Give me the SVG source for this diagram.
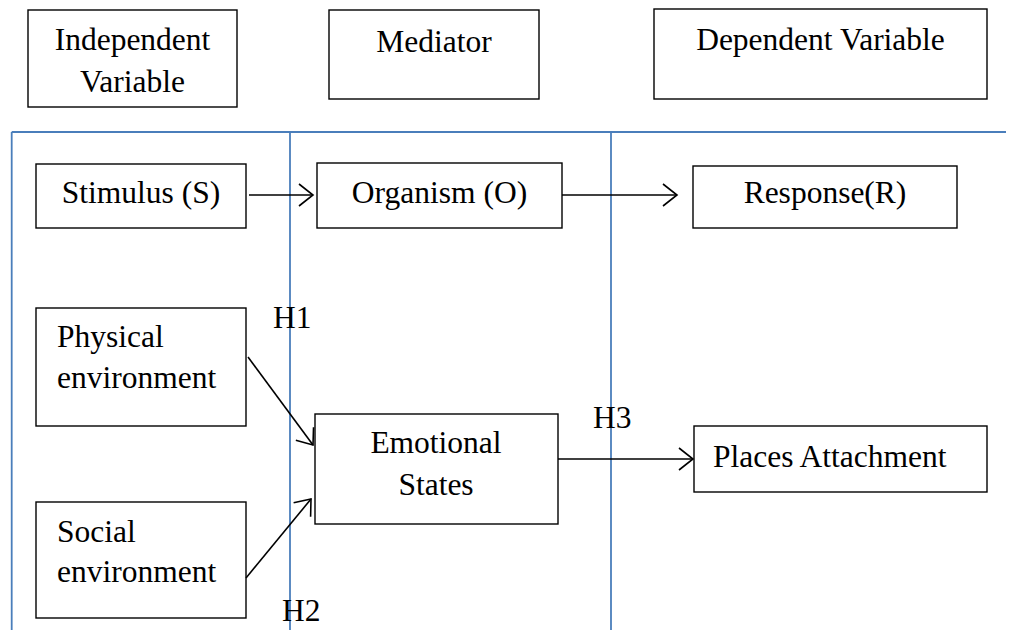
<svg xmlns="http://www.w3.org/2000/svg" width="1013" height="630" viewBox="0 0 1013 630">
<style>
.box{fill:#fff;stroke:#000;stroke-width:1.4}
.t{font-family:"Liberation Serif","Times New Roman",serif;font-size:31.5px;fill:#000}
.c{text-anchor:middle}
.blue{stroke:#4A7EBB;stroke-width:1.8;fill:none}
.arr{stroke:#000;stroke-width:1.6;fill:none;marker-end:url(#ah)}
</style>
<defs>
<marker id="ah" markerUnits="userSpaceOnUse" markerWidth="20" markerHeight="26" refX="15" refY="12" orient="auto" overflow="visible">
<path d="M1,1 L15,12 L1,23" fill="none" stroke="#000" stroke-width="1.6"/>
</marker>
</defs>
<rect width="1013" height="630" fill="#fff"/>
<g id="frame">
<line class="blue" x1="11.7" y1="132" x2="1006" y2="132"/>
<line class="blue" x1="11.7" y1="132" x2="11.7" y2="630"/>
<line class="blue" x1="290" y1="132" x2="290" y2="630"/>
<line class="blue" x1="611" y1="132" x2="611" y2="630"/>
</g>
<g id="hdr-independent">
<rect class="box" x="28" y="10" width="209" height="97"/>
<text class="t c" x="132.5" y="50">Independent</text>
<text class="t c" x="132.5" y="92">Variable</text>
</g>
<g id="hdr-mediator">
<rect class="box" x="329" y="10" width="210" height="89"/>
<text class="t c" x="434" y="52">Mediator</text>
</g>
<g id="hdr-dependent">
<rect class="box" x="654" y="9" width="333" height="90"/>
<text class="t c" x="820.5" y="50">Dependent Variable</text>
</g>
<g id="stimulus">
<rect class="box" x="36" y="164" width="210" height="64"/>
<text class="t c" x="141" y="203">Stimulus (S)</text>
</g>
<g id="organism">
<rect class="box" x="317" y="163" width="245" height="65"/>
<text class="t c" x="439.5" y="203">Organism (O)</text>
</g>
<g id="response">
<rect class="box" x="693" y="166" width="264" height="62"/>
<text class="t c" x="825" y="203">Response(R)</text>
</g>
<g id="physical">
<rect class="box" x="36" y="308" width="210" height="118"/>
<text class="t" x="57" y="347">Physical</text>
<text class="t" x="57" y="388">environment</text>
</g>
<g id="social">
<rect class="box" x="36" y="502" width="210" height="116"/>
<text class="t" x="57" y="542">Social</text>
<text class="t" x="57" y="582">environment</text>
</g>
<g id="emotional">
<rect class="box" x="315" y="414" width="243" height="110"/>
<text class="t c" x="436" y="453">Emotional</text>
<text class="t c" x="436" y="495">States</text>
</g>
<g id="places">
<rect class="box" x="694" y="426" width="293" height="66"/>
<text class="t" x="713" y="467">Places Attachment</text>
</g>
<g id="connectors">
<line class="arr" x1="249" y1="195" x2="313" y2="195"/>
<line class="arr" x1="562" y1="195" x2="677" y2="195"/>
<line class="arr" x1="248" y1="357" x2="313" y2="445"/>
<line class="arr" x1="246" y1="578" x2="311" y2="499"/>
<line class="arr" x1="558" y1="459" x2="693" y2="459"/>
</g>
<g id="labels">
<text class="t" x="273" y="328">H1</text>
<text class="t" x="282" y="621">H2</text>
<text class="t" x="593" y="428">H3</text>
</g>
</svg>
